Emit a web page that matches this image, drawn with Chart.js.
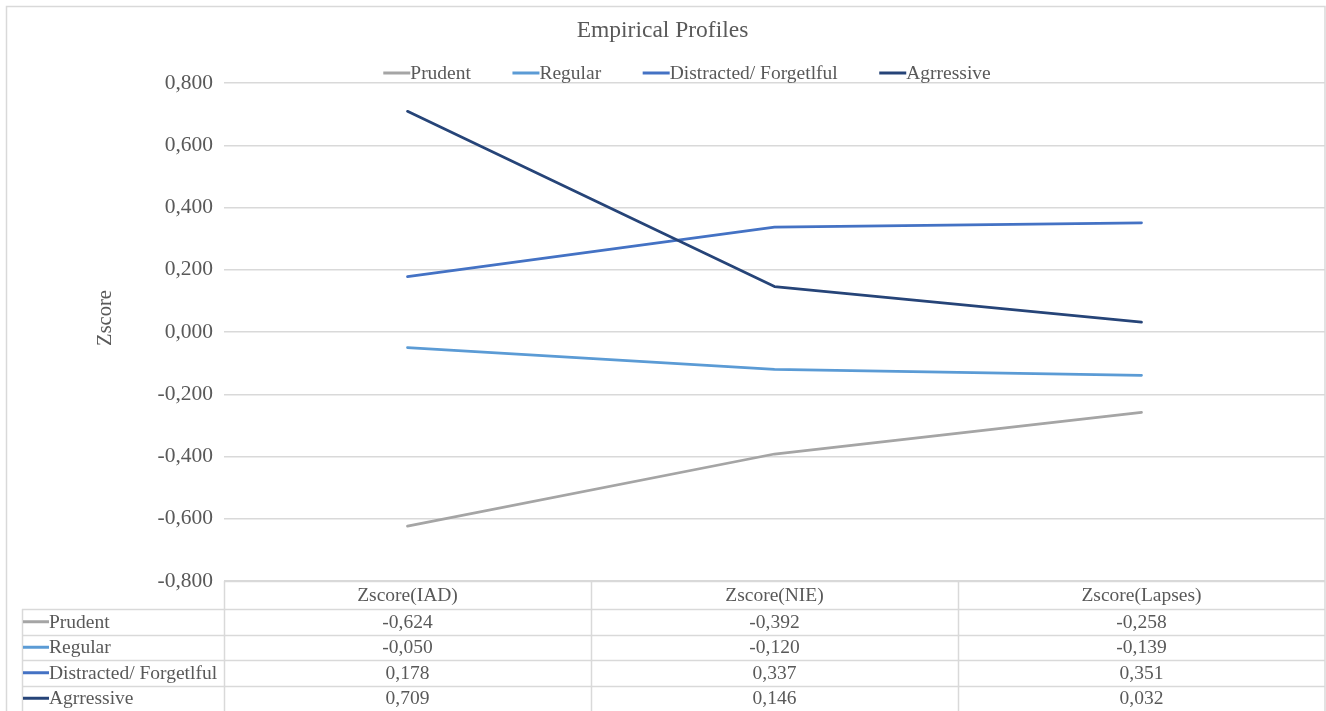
<!DOCTYPE html>
<html>
<head>
<meta charset="utf-8">
<title>Empirical Profiles</title>
<script src="https://cdn.jsdelivr.net/npm/chart.js@4.4.1/dist/chart.umd.min.js"></script>
<style>
  html, body { margin: 0; padding: 0; background: #ffffff; }
  #wrap { width: 1326px; height: 711px; position: relative; }
</style>
</head>
<body>
<div id="wrap"><canvas id="chart"></canvas></div>
<script>
// ---- data ----
const chartTitle = 'Empirical Profiles';
const yAxisTitle = 'Zscore';
const categories = ['Zscore(IAD)', 'Zscore(NIE)', 'Zscore(Lapses)'];
const seriesNames = ['Prudent', 'Regular', 'Distracted/ Forgetlful', 'Agrressive'];
const prudent = [-0.624, -0.392, -0.258];
const regular = [-0.050, -0.120, -0.139];
const distracted = [0.178, 0.337, 0.351];
const aggressive = [0.709, 0.146, 0.032];
const yMin = -0.8;
const yMax = 0.8;
const yStep = 0.2;

// ---- style ----
const seriesColors = ['#A5A5A5', '#5B9BD5', '#4472C4', '#264478'];
const textColor = '#595959';
const ruleColor = '#D9D9D9';
const fontFamily = "'Liberation Serif', 'Times New Roman', serif";
const fontSize = 19.5;
const tickFontSize = 21.5;

const seriesValues = [prudent, regular, distracted, aggressive];

// numbers shown with a decimal comma and three decimals
function fmt(v) {
  if (Math.abs(v) < 1e-9) v = 0;
  return v.toFixed(3).replace('.', ',');
}

// frame, legend, axis title and the data table under the plot
const decorations = {
  id: 'decorations',
  beforeDraw(chart) {
    const ctx = chart.ctx;
    ctx.save();
    ctx.strokeStyle = ruleColor;
    ctx.lineWidth = 1.5;
    ctx.strokeRect(6.5, 6.5, chart.width - 7.5, chart.height + 4);
    ctx.restore();
  },
  afterDraw(chart) {
    const ctx = chart.ctx;
    const ca = chart.chartArea;
    const x = chart.scales.x;
    const sets = chart.data.datasets;
    ctx.save();

    // legend row above the plot
    ctx.font = fontSize + 'px ' + fontFamily;
    ctx.textBaseline = 'middle';
    ctx.textAlign = 'left';
    const keyLen = 27, itemGap = 41.5, legendY = 73, legendCenter = 687;
    const widths = sets.map(d => keyLen + ctx.measureText(d.label).width);
    const total = widths.reduce((a, b) => a + b, 0) + itemGap * (sets.length - 1);
    let lx = legendCenter - total / 2;
    sets.forEach((d, i) => {
      ctx.strokeStyle = d.borderColor;
      ctx.lineWidth = 3;
      ctx.beginPath();
      ctx.moveTo(lx, legendY);
      ctx.lineTo(lx + keyLen, legendY);
      ctx.stroke();
      ctx.fillStyle = textColor;
      ctx.fillText(d.label, lx + keyLen, legendY + 1);
      lx += widths[i] + itemGap;
    });

    // vertical axis title
    ctx.save();
    ctx.translate(106, 318);
    ctx.rotate(-Math.PI / 2);
    ctx.textAlign = 'center';
    ctx.font = '20.5px ' + fontFamily;
    ctx.fillStyle = textColor;
    ctx.fillText(yAxisTitle, 0, 0);
    ctx.restore();

    // data table
    const top = ca.bottom;
    const bottom = chart.height;
    const headerH = 28;
    const rowH = (bottom - top - headerH) / sets.length;
    const colEdges = [];
    for (let i = 0; i <= categories.length; i++) colEdges.push(x.getPixelForValue(i - 0.5));
    const tableLeft = 22;
    const rowTops = [];
    for (let r = 0; r < sets.length; r++) rowTops.push(top + headerH + r * rowH);

    ctx.strokeStyle = ruleColor;
    ctx.lineWidth = 1.5;
    ctx.beginPath();
    // header top
    ctx.moveTo(colEdges[0], Math.round(top) + 0.5);
    ctx.lineTo(colEdges[colEdges.length - 1], Math.round(top) + 0.5);
    // row separators
    rowTops.forEach(y => {
      ctx.moveTo(tableLeft, Math.round(y) + 0.5);
      ctx.lineTo(colEdges[colEdges.length - 1], Math.round(y) + 0.5);
    });
    // column separators
    colEdges.slice(0, -1).forEach(cx => {
      ctx.moveTo(Math.round(cx) + 0.5, top);
      ctx.lineTo(Math.round(cx) + 0.5, bottom);
    });
    ctx.moveTo(tableLeft + 0.5, rowTops[0]);
    ctx.lineTo(tableLeft + 0.5, bottom);
    ctx.stroke();

    ctx.font = fontSize + 'px ' + fontFamily;
    ctx.fillStyle = textColor;
    ctx.textAlign = 'center';
    categories.forEach((c, i) => {
      ctx.fillText(c, x.getPixelForValue(i), top + headerH / 2 + 1);
    });

    sets.forEach((d, r) => {
      const cy = rowTops[r] + rowH / 2;
      ctx.strokeStyle = d.borderColor;
      ctx.lineWidth = 3;
      ctx.beginPath();
      ctx.moveTo(tableLeft + 1, cy);
      ctx.lineTo(tableLeft + 27, cy);
      ctx.stroke();
      ctx.fillStyle = textColor;
      ctx.textAlign = 'left';
      ctx.fillText(d.label, tableLeft + 27, cy + 1);
      ctx.textAlign = 'center';
      d.data.forEach((v, i) => {
        ctx.fillText(fmt(v), x.getPixelForValue(i), cy + 1);
      });
    });

    ctx.restore();
  }
};

const datasets = seriesNames.map((name, i) => ({
  label: name,
  data: seriesValues[i],
  borderColor: seriesColors[i],
  backgroundColor: seriesColors[i],
  borderWidth: 2.75,
  borderCapStyle: 'round',
  borderJoinStyle: 'round',
  pointRadius: 0,
  pointHoverRadius: 0,
  tension: 0,
  order: seriesNames.length - i
}));

new Chart(document.getElementById('chart'), {
  type: 'line',
  data: { labels: categories, datasets },
  options: {
    responsive: true,
    maintainAspectRatio: false,
    animation: false,
    layout: { padding: { top: 0, left: 0, right: 1, bottom: 130 } },
    plugins: {
      legend: { display: false },
      tooltip: { enabled: false },
      title: {
        display: true,
        text: chartTitle,
        color: textColor,
        font: { family: fontFamily, size: 23.5, weight: 'normal', lineHeight: 1.2 },
        padding: { top: 17, bottom: 37.8 }
      }
    },
    scales: {
      x: {
        display: false,
        offset: true
      },
      y: {
        min: yMin,
        max: yMax,
        afterFit(scale) { scale.width = 224; },
        border: { display: false },
        grid: { color: ruleColor, lineWidth: 1.5, drawTicks: false },
        ticks: {
          stepSize: yStep,
          padding: 11,
          color: textColor,
          font: { family: fontFamily, size: tickFontSize },
          callback: (v) => fmt(v)
        }
      }
    }
  },
  plugins: [decorations]
});
</script>
</body>
</html>
